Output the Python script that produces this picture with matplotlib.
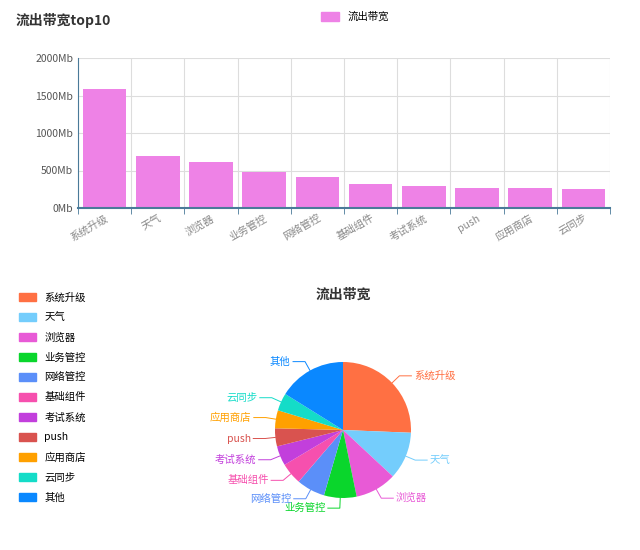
import numpy as np
import matplotlib
matplotlib.use("Agg")
import matplotlib.pyplot as plt
from matplotlib.patches import Patch

plt.rcParams["font.family"] = ["Noto Sans CJK SC", "DejaVu Sans"]

categories = ["系统升级", "天气", "浏览器", "业务管控", "网络管控", "基础组件", "考试系统", "push", "应用商店", "云同步"]
bandwidth = [1590, 700, 610, 480, 420, 320, 290, 265, 265, 260]
pie_labels = categories + ["其他"]
pie_values = bandwidth + [1000]
pie_colors = ["#ff7043", "#74cdfc", "#e85ad6", "#0ad62c", "#5b8ff9", "#f650ae",
              "#c23fdc", "#d9534f", "#ffa000", "#14dcc8", "#0a88ff"]
yticks = [0, 500, 1000, 1500, 2000]
ytick_labels = ["0Mb", "500Mb", "1000Mb", "1500Mb", "2000Mb"]

fig = plt.figure(figsize=(6.4, 5.5), dpi=100)

# bar chart
ax = fig.add_axes([78 / 640, 1 - 208 / 550, 532 / 640, 150 / 550])
x = np.arange(len(categories))
ax.bar(x, bandwidth, width=0.82, color="#ee82e6", label="流出带宽", zorder=2)
ax.set_xlim(-0.5, len(categories) - 0.5)
ax.set_ylim(0, 2000)
ax.set_yticks(yticks)
ax.set_yticklabels(ytick_labels, fontsize=7.5, color="#555555")
ax.set_xticks(x)
ax.set_xticklabels(categories, rotation=30, ha="right", fontsize=7.5, color="#888888", rotation_mode="anchor")
ax.set_xticks(np.arange(len(categories) + 1) - 0.5, minor=True)
ax.grid(True, axis="y", color="#dddddd", lw=0.8, zorder=0)
ax.grid(True, axis="x", which="minor", color="#dddddd", lw=0.8, zorder=0)
ax.tick_params(axis="x", which="major", length=0)
ax.tick_params(axis="x", which="minor", length=4, color="#4a7a99")
ax.tick_params(axis="y", length=0)
for s in ["top", "right"]:
    ax.spines[s].set_visible(False)
ax.spines["left"].set_color("#4a7a99")
ax.spines["bottom"].set_color("#4a7a99")
ax.spines["bottom"].set_linewidth(1.5)

fig.text(16 / 640, 1 - 20 / 550, "流出带宽top10", fontsize=10, fontweight="bold", color="#333333", va="center")
fig.legend(handles=[Patch(color="#ee82e6", label="流出带宽")], loc="center", bbox_to_anchor=(355 / 640, 1 - 17 / 550),
           frameon=False, fontsize=7.5, handlelength=1.8, handleheight=0.9)

# pie chart
pax = fig.add_axes([223 / 640, 0, 240 / 640, 240 / 550])
r = 68 / 120
wedges, _ = pax.pie(pie_values, colors=pie_colors, startangle=90, counterclock=False, radius=r)
pax.set_xlim(-1, 1)
pax.set_ylim(-1, 1)
pax.set_aspect("equal")
for w, lab, col in zip(wedges, pie_labels, pie_colors):
    ang = np.deg2rad((w.theta1 + w.theta2) / 2)
    x0, y0 = r * np.cos(ang), r * np.sin(ang)
    x1, y1 = 1.15 * r * np.cos(ang), 1.15 * r * np.sin(ang)
    side = 1 if x1 >= 0 else -1
    x2 = x1 + side * 0.1
    pax.plot([x0, x1, x2], [y0, y1, y1], color=col, lw=0.7, clip_on=False)
    pax.text(x2 + side * 0.02, y1, lab, color=col, fontsize=7.5, va="center",
             ha="left" if side > 0 else "right")
fig.text(343 / 640, 1 - 295 / 550, "流出带宽", fontsize=10, fontweight="bold", color="#333333", ha="center", va="center")

handles = [Patch(color=c, label=l) for c, l in zip(pie_colors, pie_labels)]
fig.legend(handles=handles, loc="upper left", bbox_to_anchor=(10 / 640, 1 - 283 / 550), frameon=False,
           fontsize=7.5, handlelength=1.6, handleheight=0.8, labelspacing=0.95)

fig.savefig("out.png", dpi=100)
